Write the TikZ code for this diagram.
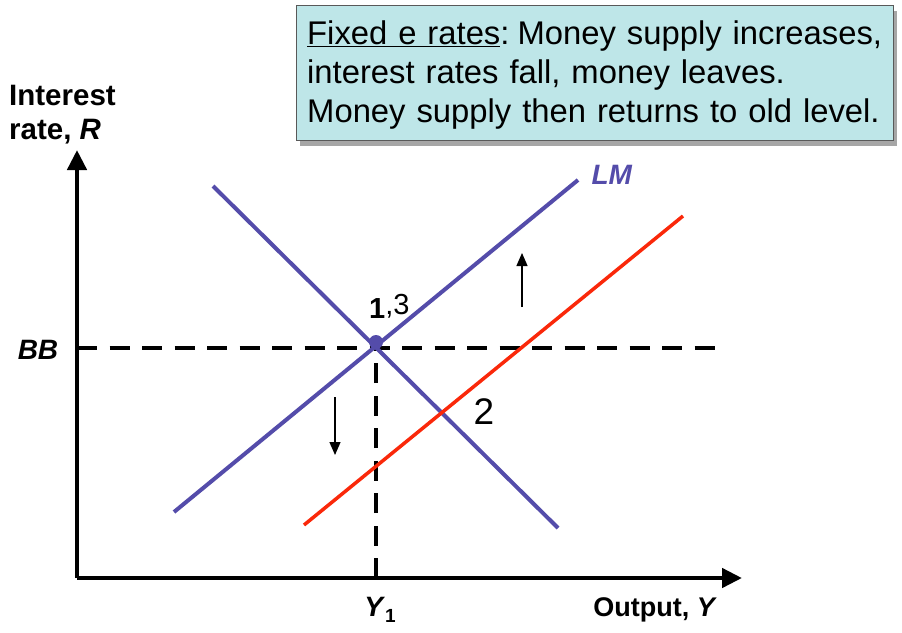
\documentclass[tikz,border=0pt]{standalone}
\usepackage{fontspec}
\setmainfont{Liberation Sans}
\usetikzlibrary{arrows.meta,shadows}
\definecolor{lmblue}{RGB}{84,76,170}
\definecolor{shiftred}{RGB}{250,40,10}
\definecolor{boxfill}{RGB}{190,230,232}
\tikzset{
  axis/.style={line width=4.5pt,-{Triangle[length=20pt,width=19pt]}},
  guide/.style={line width=4pt,dash pattern=on 20pt off 12.5pt},
  curve/.style={line width=4pt},
  shiftarrow/.style={line width=1.3pt,-{Triangle[length=13pt,width=11pt]}},
  lbl/.style={font=\fontsize{28}{33}\selectfont\bfseries, inner sep=0pt},
}
\begin{document}
\begin{tikzpicture}[x=1pt,y=-1pt]
\useasboundingbox (0,0) rectangle (902,632);
% box
\node[draw=black!65, line width=1pt, fill=boxfill, minimum width=597pt, minimum height=135pt, anchor=north west,
  drop shadow={shadow xshift=3pt,shadow yshift=-5pt,opacity=0.7}, inner sep=0pt] (box) at (296,5) {};
\node[anchor=west, align=left, inner sep=0pt, text width=586pt, font=\fontsize{32.8}{39}\selectfont] (boxtext) at (307,75)
  {\underline{Fixed e rates}:\hspace{8pt}Money supply increases,\\interest rates fall, money leaves.\\Money supply then returns to old level.};
% coordinates
\coordinate (O) at (77,578);
\coordinate (ytop) at (77,150);
\coordinate (xend) at (742,578);
\coordinate (bbl) at (77,348);
\coordinate (bbr) at (715,348);
\coordinate (y1) at (376,578);
\coordinate (eq) at (376,347);
% axes
\draw[axis] (O) -- (ytop);
\draw[axis] (O) -- (xend);
% dashed
\draw[guide] (bbl) -- (bbr);
\draw[guide] (y1) -- (eq);
% curves
\coordinate (lma) at (174,512);
\coordinate (lmb) at (578,180);
\coordinate (isa) at (213,186);
\coordinate (isb) at (558,528);
\coordinate (lm2a) at (304,525);
\coordinate (lm2b) at (683,216);
\draw[curve, lmblue] (lma) -- (lmb);
\draw[curve, lmblue] (isa) -- (isb);
\draw[curve, shiftred, line width=3.5pt] (lm2a) -- (lm2b);
\fill[lmblue] (376,342) circle (7pt);
% shift arrows
\coordinate (dA) at (335,397);
\coordinate (dB) at (335,455);
\coordinate (uA) at (522,307);
\coordinate (uB) at (522,253);
\draw[shiftarrow] (dA) -- (dB);
\draw[shiftarrow] (uA) -- (uB);
% labels
\node[lbl, anchor=west, align=left, font=\fontsize{29.5}{34}\selectfont\bfseries] (ylab) at (9,115) {Interest\\rate, \textit{R}};
\node[lbl, lmblue] (lmlab) at (612,175) {\textit{LM}};
\node[lbl] (bblab) at (38,350) {\textit{BB}};
\node[lbl] (y1lab) at (380,610) {\textit{Y}\raisebox{-6pt}{\fontsize{19}{20}\selectfont 1}};
\node[lbl, anchor=east, font=\fontsize{27}{32}\selectfont\bfseries] (xlab) at (717,610) {Output, \textit{Y}};
\node[inner sep=0pt, font=\fontsize{29}{32}\selectfont, anchor=base west] (l13) at (369,318) {\textbf{1}\raisebox{4pt}{,3}};
\node[inner sep=0pt, font=\fontsize{37}{40}\selectfont] (l2) at (484,412) {2};
\end{tikzpicture}
\end{document}
